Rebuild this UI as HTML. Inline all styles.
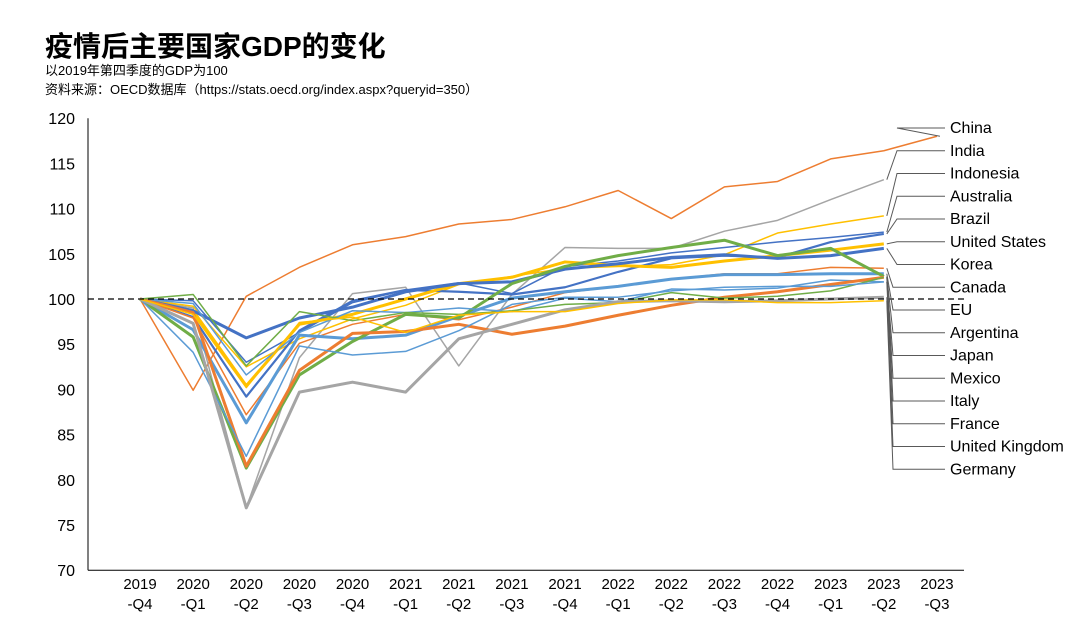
<!DOCTYPE html>
<html><head><meta charset="utf-8"><style>
body{margin:0;background:#fff;}
svg text{font-family:"Liberation Sans","Noto Sans CJK SC",sans-serif;}
</style></head><body>
<svg width="1080" height="623" viewBox="0 0 1080 623">
<text x="45" y="56" font-size="28" font-weight="bold" fill="#000">疫情后主要国家GDP的变化</text>
<text x="45" y="75" font-size="13" fill="#000">以2019年第四季度的GDP为100</text>
<text x="45" y="94" font-size="13" fill="#000">资料来源：OECD数据库（https://stats.oecd.org/index.aspx?queryid=350）</text>
<g id="axes"></g>
<g id="lines"></g>
<g id="labels"></g>
</svg>
<script>
const categories=["2019|-Q4","2020|-Q1","2020|-Q2","2020|-Q3","2020|-Q4","2021|-Q1","2021|-Q2","2021|-Q3","2021|-Q4","2022|-Q1","2022|-Q2","2022|-Q3","2022|-Q4","2023|-Q1","2023|-Q2","2023|-Q3"];
const yTicks=[70,75,80,85,90,95,100,105,110,115,120];
const countries=["China","India","Indonesia","Australia","Brazil","United States","Korea","Canada","EU","Argentina","Japan","Mexico","Italy","France","United Kingdom","Germany"];
const colors=["#ED7D31","#A5A5A5","#FFC000","#4472C4","#4472C4","#FFC000","#4472C4","#ED7D31","#5B9BD5","#70AD47","#5B9BD5","#ED7D31","#70AD47","#5B9BD5","#A5A5A5","#FFC000"];
const widths=[1.5,1.5,1.5,1.5,2.2,3,3,1.5,3,3,1.5,3,1.5,1.5,3,1.5];
const sChina=[100,89.9,100.3,103.5,106,106.9,108.3,108.8,110.2,112,108.9,112.4,113,115.5,116.4,118];
const sIndia=[100,99,76.9,93.5,100.6,101.3,92.6,100.5,105.7,105.6,105.6,107.5,108.7,111,113.2];
const sIndonesia=[100,99.2,92.5,95.6,97.8,99.3,101.6,102.5,103.4,103.6,103.8,104.9,107.3,108.3,109.2];
const sAustralia=[100,99.8,93,96.3,99.6,101,101.8,100.6,103.6,104.2,105.1,105.7,106.3,106.8,107.4];
const sBrazil=[100,98,89.2,96.5,99.8,101,100.8,100.5,101.3,103,104.5,104.8,104.6,106.3,107.2];
const sUS=[100,98.7,90.4,97.2,98.3,100,101.7,102.4,104.1,103.7,103.5,104.2,104.8,105.4,106.1];
const sKorea=[100,98.7,95.7,97.9,99.1,100.8,101.7,101.9,103.3,103.9,104.6,104.9,104.5,104.8,105.6];
const sCanada=[100,97.9,87.2,95.1,97.2,98.3,97.7,99.1,100.7,101.4,102.2,102.8,102.8,103.5,103.4];
const sEU=[100,96.6,86.3,96,95.6,96,98.1,100.1,100.8,101.4,102.2,102.7,102.7,102.8,102.8];
const sArgentina=[100,95.8,81.3,91.6,95.3,98.3,97.9,101.7,103.6,104.8,105.7,106.5,104.8,105.6,102.5];
const sJapan=[100,99.5,91.6,96.3,98.7,98.5,99,98.6,100.1,99.7,101.1,101,101.2,102.1,101.9];
const sMexico=[100,98.5,81.5,92.1,96.2,96.4,97.2,96.1,97,98.2,99.3,100.2,100.8,101.6,102.4];
const sItaly=[100,100.5,92.6,98.6,97.6,98.5,98.3,98.7,99.4,99.6,100.7,100.1,100.3,100.9,102.4];
const sFrance=[100,94.1,82.6,94.8,93.8,94.2,96.5,99.4,100.2,100.2,100.9,101.3,101.4,101.4,101.9];
const sUK=[100,97.3,76.9,89.7,90.8,89.7,95.6,97.2,98.8,99.7,99.8,99.7,99.8,100,100.2];
const sGermany=[100,98.3,90.2,97.4,98,96.3,98.2,98.6,98.6,99.5,99.9,99.9,99.6,99.6,99.8];
const series=[sChina,sIndia,sIndonesia,sAustralia,sBrazil,sUS,sKorea,sCanada,sEU,sArgentina,sJapan,sMexico,sItaly,sFrance,sUK,sGermany];
const NS="http://www.w3.org/2000/svg";
const X0=140,DX=53.13,Y0=299,KY=9.04;
const xs=i=>X0+i*DX, ys=v=>Y0-(v-100)*KY;
function mk(tag,attrs,parent){const e=document.createElementNS(NS,tag);for(const k in attrs)e.setAttribute(k,attrs[k]);parent.appendChild(e);return e;}
const axes=document.getElementById('axes'),lines=document.getElementById('lines'),labels=document.getElementById('labels');
let e=mk('line',{x1:88,y1:ys(120),x2:88,y2:ys(70),stroke:'#000','stroke-width':1},axes);


e=mk('line',{x1:88,y1:ys(70),x2:964,y2:ys(70),stroke:'#000','stroke-width':1},axes);


yTicks.forEach(v=>{const t=mk('text',{x:75,y:ys(v)+6,'font-size':16,'text-anchor':'end',fill:'#000'},axes);t.textContent=v;

});
categories.forEach((c,i)=>{const p=c.split('|');const t=mk('text',{x:xs(i),y:589,'font-size':15,'text-anchor':'middle',fill:'#000'},axes);t.textContent=p[0];


const t2=mk('text',{x:xs(i),y:609,'font-size':15,'text-anchor':'middle',fill:'#000'},axes);t2.textContent=p[1];

});
series.forEach((s,k)=>{const pts=s.map((v,i)=>xs(i)+','+ys(v)).join(' ');
const pl=mk('polyline',{points:pts,fill:'none',stroke:colors[k],'stroke-width':widths[k],'stroke-linejoin':'round'},lines);

});
e=mk('line',{x1:88,y1:ys(100),x2:966,y2:ys(100),stroke:'#000','stroke-width':1.3,'stroke-dasharray':'6,4'},lines);


countries.forEach((c,k)=>{const ly=128+k*22.75;const s=series[k];const ex=xs(s.length-1)+3,ey=ys(s[s.length-1]);
const bx=k<7?897:893;
const ll=mk('polyline',{points:ex+','+ey+' '+bx+','+ly+' 945,'+ly,fill:'none',stroke:'#595959','stroke-width':1},labels);


const t=mk('text',{x:950,y:ly+5,'font-size':16,fill:'#000'},labels);t.textContent=c;

});
</script>
</body></html>
